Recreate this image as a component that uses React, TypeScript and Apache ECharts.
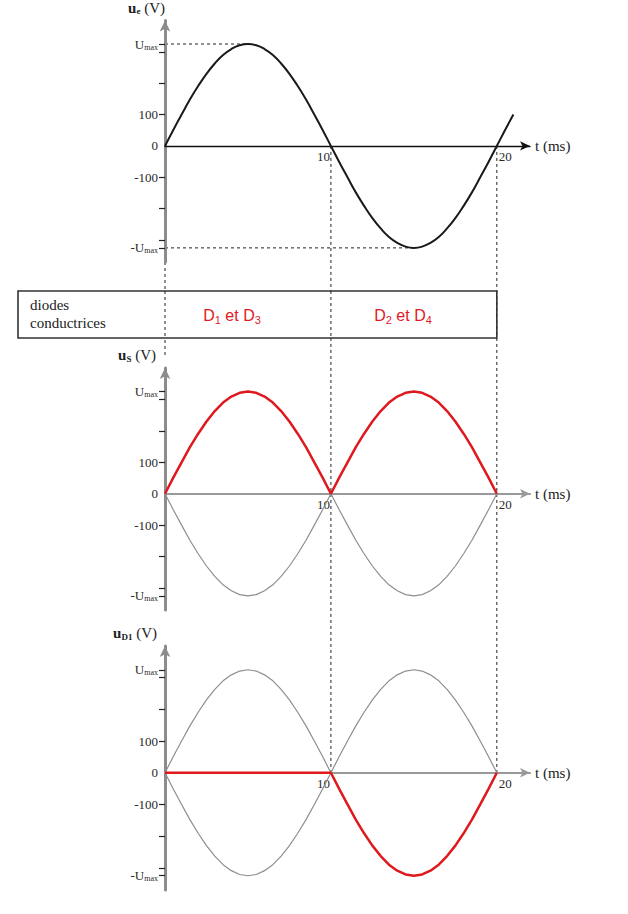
import React, { useEffect, useRef } from "react";
import * as echarts from "echarts";

// time samples (ms)
const timeMs = [0, 0.5, 1, 1.5, 2, 2.5, 3, 3.5, 4, 4.5, 5, 5.5, 6, 6.5, 7, 7.5, 8, 8.5, 9, 9.5, 10, 10.5, 11, 11.5, 12, 12.5, 13, 13.5, 14, 14.5, 15, 15.5, 16, 16.5, 17, 17.5, 18, 18.5, 19, 19.5, 20, 20.5, 21];
// u_e (V)
const ueValues = [0, 51, 100, 148, 191, 230, 263, 290, 309, 321, 325, 321, 309, 290, 263, 230, 191, 148, 100, 51, 0, -51, -100, -148, -191, -230, -263, -290, -309, -321, -325, -321, -309, -290, -263, -230, -191, -148, -100, -51, 0, 51, 100];
// u_S (V), red curve of the middle plot (0..20 ms)
const usValues = [0, 51, 100, 148, 191, 230, 263, 290, 309, 321, 325, 321, 309, 290, 263, 230, 191, 148, 100, 51, 0, 51, 100, 148, 191, 230, 263, 290, 309, 321, 325, 321, 309, 290, 263, 230, 191, 148, 100, 51, 0];
// grey envelopes (upper / lower), 0..20 ms
const envUpper = [0, 51, 100, 148, 191, 230, 263, 290, 309, 321, 325, 321, 309, 290, 263, 230, 191, 148, 100, 51, 0, 51, 100, 148, 191, 230, 263, 290, 309, 321, 325, 321, 309, 290, 263, 230, 191, 148, 100, 51, 0];
const envLower = [0, -51, -100, -148, -191, -230, -263, -290, -309, -321, -325, -321, -309, -290, -263, -230, -191, -148, -100, -51, 0, -51, -100, -148, -191, -230, -263, -290, -309, -321, -325, -321, -309, -290, -263, -230, -191, -148, -100, -51, 0];
// u_D1 (V), red curve of the bottom plot
const ud1Values = [0, 0, 0, 0, 0, 0, 0, 0, 0, 0, 0, 0, 0, 0, 0, 0, 0, 0, 0, 0, 0, -51, -100, -148, -191, -230, -263, -290, -309, -321, -325, -321, -309, -290, -263, -230, -191, -148, -100, -51, 0];

const U_MAX = 325;
const yTickValues = [-325, -300, -200, -100, 100, 200, 300, 325];
const yLabelValues = [-325, -100, 0, 100, 325];
const xLabelValues = [10, 20];

const SERIF = "'Liberation Serif', 'DejaVu Serif', serif";
const SANS = "'Liberation Sans', Arial, sans-serif";
const RED = "#de1a1f";

const pairs = (vals: number[]) => vals.map((v, i) => [timeMs[i], v]);

export default function App() {
  const ref = useRef<HTMLDivElement>(null);
  useEffect(() => {
    if (!ref.current) return;
    const chart = echarts.init(ref.current, undefined, { renderer: "svg" });

    const tops = [18, 368, 646];
    const heights = [244, 242, 244];
    const names = [
      "{b|u}{bs|e}{n| (V)}",
      "{b|u}{bs|S}{n| (V)}",
      "{b|u}{bs|D1}{n| (V)}",
    ];
    const namePad = [0, 9, 8];

    const grids = tops.map((t, i) => ({ left: 165, width: 365, top: t, height: heights[i] }));

    const xAxes = tops.map((_, i) => ({
      type: "value",
      gridIndex: i,
      min: 0,
      max: 22,
      name: "t (ms)",
      nameLocation: "end",
      nameGap: 5,
      nameTextStyle: { fontFamily: SERIF, fontSize: 15, color: "#222", verticalAlign: "middle" },
      splitLine: { show: false },
      axisTick: { show: false },
      axisLabel: { show: false },
      axisLine: {
        onZero: true,
        symbol: ["none", "arrow"],
        symbolSize: [7, 10],
        lineStyle: { color: i === 0 ? "#111" : "#999", width: i === 0 ? 1.3 : 2 },
      },
    }));

    const yAxes = tops.map((_, i) => ({
      type: "value",
      gridIndex: i,
      min: -370,
      max: 400,
      name: names[i],
      nameLocation: "end",
      nameGap: 5,
      nameTextStyle: {
        align: "right",
        padding: [0, namePad[i], 0, 0],
        rich: {
          b: { fontFamily: SERIF, fontWeight: "bold", fontSize: 15, color: "#222" },
          bs: { fontFamily: SERIF, fontWeight: "bold", fontSize: 9, color: "#222", verticalAlign: "bottom", lineHeight: 16 },
          n: { fontFamily: SERIF, fontSize: 15, color: "#222" },
        },
      },
      splitLine: { show: false },
      axisLine: {
        symbol: ["none", "arrow"],
        symbolSize: [8, 11],
        lineStyle: { color: "#8c8c8c", width: 3 },
      },
      axisTick: {
        show: true,
        customValues: yTickValues,
        length: 6,
        lineStyle: { color: "#222", width: 1.2 },
      },
      axisLabel: {
        customValues: yLabelValues,
        margin: 7,
        formatter: (v: number) =>
          v === U_MAX ? "{u|U}{m|max}" : v === -U_MAX ? "{u|-U}{m|max}" : "{u|" + v + "}",
        rich: {
          u: { fontFamily: SERIF, fontSize: 13, color: "#2a2a2a", lineHeight: 14 },
          m: { fontFamily: SERIF, fontSize: 8, color: "#2a2a2a", verticalAlign: "bottom", lineHeight: 12 },
        },
      },
    }));

    const thin = { color: "#8e8e8e", width: 1.2 };
    const series: any[] = [
      { type: "line", xAxisIndex: 0, yAxisIndex: 0, data: pairs(ueValues), smooth: true, showSymbol: false, lineStyle: { color: "#1a1a1a", width: 2 } },
      { type: "line", xAxisIndex: 1, yAxisIndex: 1, data: pairs(envUpper), showSymbol: false, lineStyle: thin },
      { type: "line", xAxisIndex: 1, yAxisIndex: 1, data: pairs(envLower), showSymbol: false, lineStyle: thin },
      { type: "line", xAxisIndex: 1, yAxisIndex: 1, data: pairs(usValues), showSymbol: false, lineStyle: { color: RED, width: 2.5 } },
      { type: "line", xAxisIndex: 2, yAxisIndex: 2, data: pairs(envUpper), showSymbol: false, lineStyle: thin },
      { type: "line", xAxisIndex: 2, yAxisIndex: 2, data: pairs(envLower), showSymbol: false, lineStyle: thin },
      { type: "line", xAxisIndex: 2, yAxisIndex: 2, data: pairs(ud1Values), showSymbol: false, lineStyle: { color: RED, width: 2.5 } },
    ];

    chart.setOption({
      animation: false,
      backgroundColor: "#fff",
      grid: grids,
      xAxis: xAxes,
      yAxis: yAxes,
      series,
    });

    const px = (g: number, x: number, y: number) => chart.convertToPixel({ gridIndex: g } as any, [x, y]) as number[];
    const dash = { stroke: "#222", lineWidth: 1, lineDash: [3, 3] };
    const p0max = px(0, 0, U_MAX);
    const p0peak = px(0, 5, U_MAX);
    const p0min = px(0, 0, -U_MAX);
    const p0trough = px(0, 15, -U_MAX);
    const a10 = px(0, 10, 0);
    const b10 = px(2, 10, 0);
    const a20 = px(0, 20, 0);
    const b20 = px(2, 20, 0);
    const axBottom1 = px(0, 0, -370);
    const axTop2 = px(1, 0, 400);
    const t20 = a20[0];

    const graphic: any[] = [
      { type: "line", shape: { x1: p0max[0], y1: p0max[1], x2: p0peak[0], y2: p0peak[1] }, style: dash },
      { type: "line", shape: { x1: p0min[0], y1: p0min[1], x2: p0trough[0], y2: p0trough[1] }, style: dash },
      { type: "line", shape: { x1: a10[0], y1: a10[1], x2: b10[0], y2: b10[1] }, style: dash },
      { type: "line", shape: { x1: a20[0], y1: a20[1], x2: b20[0], y2: b20[1] }, style: dash },
      { type: "line", shape: { x1: axBottom1[0], y1: axBottom1[1], x2: axTop2[0], y2: axTop2[1] - 10 }, style: dash },
      { type: "rect", shape: { x: 18, y: 291, width: t20 - 18, height: 47 }, style: { fill: "#fff", stroke: "#333", lineWidth: 1.6 } },
      { type: "line", shape: { x1: a10[0], y1: 291, x2: a10[0], y2: 338 }, style: dash },
      { type: "line", shape: { x1: 165, y1: 291, x2: 165, y2: 338 }, style: dash },
      { type: "text", x: 30, y: 297, style: { text: "diodes", font: "15px " + SERIF, fill: "#222" } },
      { type: "text", x: 30, y: 315, style: { text: "conductrices", font: "15px " + SERIF, fill: "#222" } },
      {
        type: "text", x: 232, y: 315,
        style: {
          text: "{d|D}{s|1}{d| et D}{s|3}", align: "center", verticalAlign: "middle",
          rich: {
            d: { fontFamily: SANS, fontSize: 16, fill: RED, lineHeight: 20 },
            s: { fontFamily: SANS, fontSize: 11, fill: RED, verticalAlign: "bottom", lineHeight: 16 },
          },
        },
      },
      {
        type: "text", x: 403, y: 315,
        style: {
          text: "{d|D}{s|2}{d| et D}{s|4}", align: "center", verticalAlign: "middle",
          rich: {
            d: { fontFamily: SANS, fontSize: 16, fill: RED, lineHeight: 20 },
            s: { fontFamily: SANS, fontSize: 11, fill: RED, verticalAlign: "bottom", lineHeight: 16 },
          },
        },
      },
    ];

    // x tick labels 10 / 20 placed at the axis values on each plot
    for (let g = 0; g < 3; g++) {
      xLabelValues.forEach((v) => {
        const p = px(g, v, 0);
        graphic.push({
          type: "text",
          x: v === 10 ? p[0] - 1 : p[0] + 2,
          y: p[1] + 4,
          style: {
            text: String(v),
            align: v === 10 ? "right" : "left",
            verticalAlign: "top",
            font: "13px " + SERIF,
            fill: "#2a2a2a",
          },
        });
      });
    }

    chart.setOption({ graphic });

    return () => chart.dispose();
  }, []);

  return <div ref={ref} style={{ position: "absolute", left: 0, top: 0, width: 628, height: 914 }} />;
}
